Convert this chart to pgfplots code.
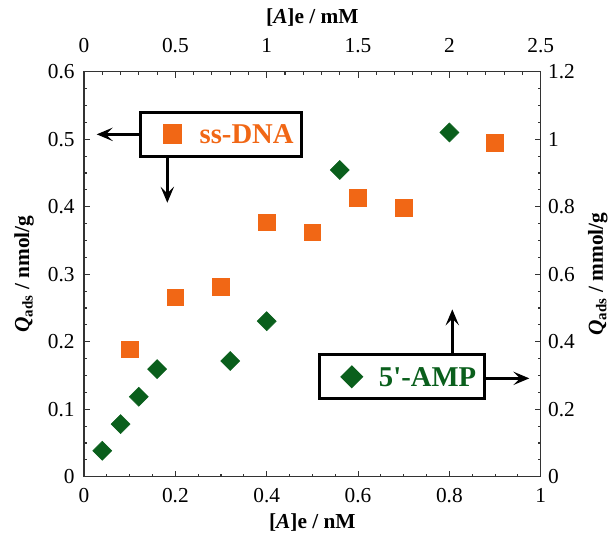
\documentclass[border=0pt]{standalone}
\usepackage{fontspec}
\setmainfont{Liberation Serif}
\usepackage{pgfplots}
\pgfplotsset{compat=1.18}
\usetikzlibrary{arrows.meta,calc}

\definecolor{dnaorange}{RGB}{241,103,21}
\definecolor{ampgreen}{RGB}{10,95,28}

\tikzset{
  arr/.style={line width=2.2pt, -{Stealth[length=12pt, width=10pt, inset=5pt]}},
  lab/.style={font=\bfseries\fontsize{16}{18}\selectfont, anchor=center},
}

\pgfplotsset{
  frame/.style={
    width=342.5pt, height=303.75pt, scale only axis,
    axis line style={black!80, line width=0.9pt},
    tick style={black!80, line width=0.8pt},
    major tick length=4.5pt, minor tick length=2.4pt,
    tick align=inside,
    /pgf/number format/assume math mode=true,
    tick label style={font=\fontsize{16}{18}\selectfont},
    legend cell align=left,
    clip=false,
  },
  boxlegend/.style={
    legend image code/.code={
      \path (0pt,0pt) (36.2pt,0pt);
      \draw[##1, only marks] plot coordinates {(16.9pt,0pt)};},
    legend style={draw=black, line width=2.2pt, inner xsep=6pt, inner ysep=9pt,
      font=\bfseries\fontsize{21.5}{24}\selectfont,
      nodes={inner sep=0pt, text height=14.5pt, text depth=0.5pt}},
  },
}

\begin{document}
\begin{tikzpicture}
% bottom / left: ss-DNA
\begin{axis}[frame, boxlegend, name=main,
  xmin=0, xmax=1, ymin=0, ymax=0.6,
  xtick={0,0.2,0.4,0.6,0.8,1}, ytick={0,0.1,0.2,0.3,0.4,0.5,0.6},
  minor x tick num=3, minor y tick num=3,
  xtick pos=bottom, ytick pos=left,
  xticklabel style={yshift=-5pt}, yticklabel style={xshift=-3.5pt},
  xlabel={[\textit{A}]e / nM},
  ylabel={\textit{Q}\textsubscript{ads} / nmol/g},
  every axis x label/.style={at={(axis description cs:0.5,-0.112)}, lab},
  every axis y label/.style={at={(axis description cs:-0.131,0.5)}, rotate=90, lab},
  legend style={at={(0.1204,0.9037)}, anchor=north west, text=dnaorange},
]
\addplot[only marks, mark=square*, mark size=6.25pt, color=dnaorange, mark options={draw=none}]
  coordinates {(0.1,0.189) (0.2,0.266) (0.3,0.281) (0.4,0.377)
               (0.5,0.362) (0.6,0.413) (0.7,0.398) (0.9,0.495)};
\legend{ss-DNA}
\end{axis}

% top / right: 5'-AMP
\begin{axis}[frame, boxlegend,
  xmin=0, xmax=2.5, ymin=0, ymax=1.2,
  xtick={0,0.5,1,1.5,2,2.5}, ytick={0,0.2,0.4,0.6,0.8,1,1.2},
  minor x tick num=4, minor y tick num=3,
  xtick pos=top, ytick pos=right,
  xticklabel pos=upper, yticklabel pos=upper,
  xticklabel style={yshift=11pt}, yticklabel style={xshift=2pt},
  xlabel={[\textit{A}]e / mM},
  ylabel={\textit{Q}\textsubscript{ads} / mmol/g},
  every axis x label/.style={at={(axis description cs:0.5,1.135)}, lab},
  every axis y label/.style={at={(axis description cs:1.125,0.5)}, rotate=90, lab},
  legend style={at={(0.513,0.3047)}, anchor=north west, text=ampgreen},
]
\addplot[only marks, mark=square*, mark size=5.05pt, color=ampgreen, mark options={draw=none, rotate=45}]
  coordinates {(0.1,0.077) (0.2,0.156) (0.3,0.237) (0.4,0.319)
               (0.8,0.343) (1.0,0.461) (1.4,0.909) (2.0,1.020)};
\legend{5\textquotesingle-AMP}
% arrows from the annotation boxes
\draw[arr] (rel axis cs:0.1204,0.8454) -- (rel axis cs:0.0278,0.8454);
\draw[arr] (rel axis cs:0.1824,0.7877) -- (rel axis cs:0.1824,0.6765);
\draw[arr] (rel axis cs:0.8064,0.3047) -- (rel axis cs:0.8064,0.4133);
\draw[arr] (rel axis cs:0.873,0.243) -- (rel axis cs:0.975,0.243);
\end{axis}

\pgfresetboundingbox
\path ($(main.south west)+(-63pt,-44.5pt)$) rectangle ($(main.north east)+(51.2pt,53.8pt)$);
\end{tikzpicture}
\end{document}
